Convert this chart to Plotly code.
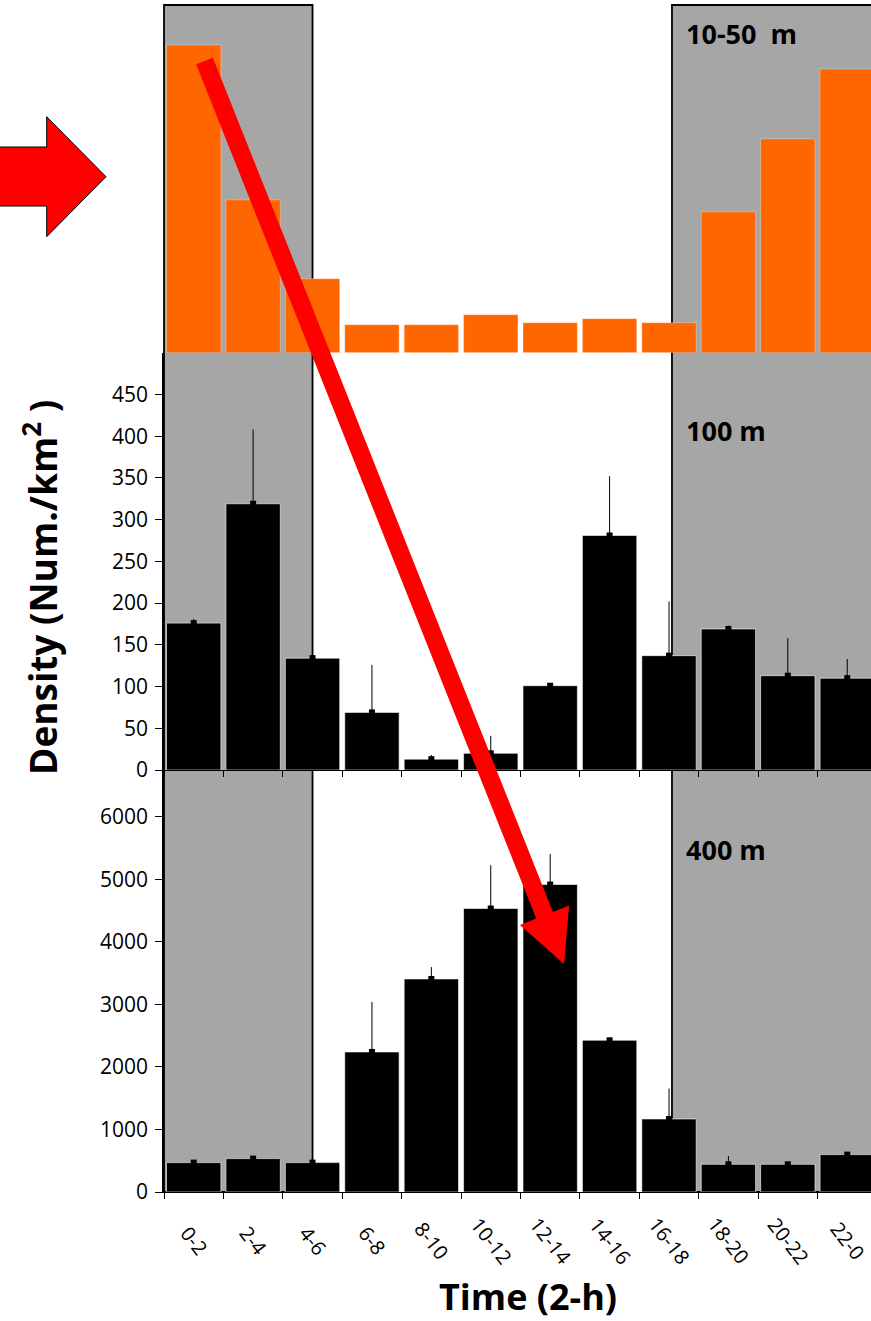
import math
import plotly.graph_objects as go

# ---------------- data ----------------
periods = ["0-2", "2-4", "4-6", "6-8", "8-10", "10-12",
           "12-14", "14-16", "16-18", "18-20", "20-22", "22-0"]
# 10-50 m layer (no axis shown, relative density)
density_10_50 = [308, 153, 74, 28, 28, 38, 30, 34, 30, 141, 214, 284]
# 100 m layer
density_100 = [176, 319, 134, 69, 13, 20, 101, 281, 137, 169, 113, 110]
err_100 = [5, 89, 111, 57, 5, 21, 3, 71, 65, 4, 45, 23]
# 400 m layer
density_400 = [470, 534, 470, 2240, 3408, 4534, 4918, 2427, 1168, 443, 443, 598]
err_400 = [30, 30, 30, 800, 190, 693, 490, 30, 486, 133, 30, 30]

ticks_100 = [0, 50, 100, 150, 200, 250, 300, 350, 400, 450]
ticks_400 = [0, 1000, 2000, 3000, 4000, 5000, 6000]
night_spans = [(-0.5, 2.0), (8.05, 13.0)]   # in category units

# ---------------- geometry ----------------
W, H = 871, 1321
ML, MR, MT, MB = 164, 0, 5, 129
PW, PH = W - ML - MR, H - MT - MB
XR = [-0.5, 11.4]
ORANGE = "#FF6600"
GRAY = "#A6A6A6"
FONT = "Open Sans"


def px(x):
    return (x - ML) / PW


def py(y):
    return (H - MB - y) / PH


def cat_paper(c):
    return (c - XR[0]) / (XR[1] - XR[0])


d_bot = [0, py(770)]
d_mid = [py(770), py(352.7)]
d_top = [py(352.7), 1]

fig = go.Figure()

bar_line = dict(color="white", width=0.6)
fig.add_trace(go.Bar(x=periods, y=density_400, marker=dict(color="black", line=bar_line),
                     error_y=dict(type="data", array=err_400, arrayminus=[0] * 12,
                                  color="black", thickness=1, width=0),
                     xaxis="x", yaxis="y"))
fig.add_trace(go.Scatter(x=periods, y=density_400, mode="markers",
                         marker=dict(symbol="square", size=6, color="black"),
                         xaxis="x", yaxis="y", hoverinfo="skip"))
fig.add_trace(go.Bar(x=periods, y=density_100, marker=dict(color="black", line=bar_line),
                     error_y=dict(type="data", array=err_100, arrayminus=[0] * 12,
                                  color="black", thickness=1, width=0),
                     xaxis="x2", yaxis="y2"))
fig.add_trace(go.Scatter(x=periods, y=density_100, mode="markers",
                         marker=dict(symbol="square", size=6, color="black"),
                         xaxis="x2", yaxis="y2", hoverinfo="skip"))
fig.add_trace(go.Bar(x=periods, y=density_10_50,
                     marker=dict(color=ORANGE, line=dict(color="rgba(255,255,255,0.5)", width=0.6)),
                     xaxis="x3", yaxis="y3"))

xcommon = dict(range=XR, showgrid=False, zeroline=False, type="category",
               tickson="boundaries", showticklabels=False, fixedrange=True)
ycommon = dict(showgrid=False, zeroline=False, tickfont=dict(family=FONT, size=21, color="black"),
               ticks="outside", ticklen=7, tickcolor="black", ticklabelstandoff=3)

shapes = []
for a, b in night_spans:
    shapes.append(dict(type="rect", xref="paper", yref="paper",
                       x0=cat_paper(a), x1=cat_paper(b), y0=0, y1=1,
                       fillcolor=GRAY, line=dict(color="black", width=1.8), layer="below"))


def poly(points):
    return "M " + " L ".join(f"{px(x):.5f},{py(y):.5f}" for x, y in points) + " Z"


# block arrow at left
block = [(-5, 147), (46.7, 147), (46.7, 116.7), (106, 176.7),
         (46.7, 236.7), (46.7, 206), (-5, 206)]
shapes.append(dict(type="path", xref="paper", yref="paper", path=poly(block),
                   fillcolor="#FF0000", line=dict(color="black", width=1), layer="above"))

# diagonal arrow
sx, sy = 204.5, 61.0
tx, ty = 564.0, 964.0
L = math.hypot(tx - sx, ty - sy)
ux, uy = (tx - sx) / L, (ty - sy) / L
vx, vy = uy, -ux
hl, hw, sw = 52.5, 26.5, 9.0
bx, by = tx - ux * hl, ty - uy * hl
diag = [(sx + vx * sw, sy + vy * sw), (bx + vx * sw, by + vy * sw),
        (bx + vx * hw, by + vy * hw), (tx, ty),
        (bx - vx * hw, by - vy * hw), (bx - vx * sw, by - vy * sw),
        (sx - vx * sw, sy - vy * sw)]
shapes.append(dict(type="path", xref="paper", yref="paper", path=poly(diag),
                   fillcolor="#FF0000", line=dict(width=0), layer="above"))

annotations = []
for txt, yy in [("10-50&nbsp;&nbsp;m", 33), ("100 m", 430), ("400 m", 849)]:
    annotations.append(dict(text=f"<b>{txt}</b>", xref="paper", yref="paper",
                            x=px(684), y=py(yy), xanchor="left", yanchor="middle",
                            showarrow=False, font=dict(family=FONT, size=27, color="black")))
for i, p in enumerate(periods):
    annotations.append(dict(text=p, xref="paper", yref="paper",
                            x=cat_paper(i), y=py(1241), xanchor="center", yanchor="middle",
                            textangle=52, showarrow=False,
                            font=dict(family=FONT, size=20, color="black")))
annotations.append(dict(text="<b>Time (2-h)</b>", xref="paper", yref="paper",
                        x=px(528), y=py(1296), xanchor="center", yanchor="middle",
                        showarrow=False, borderpad=0,
                        font=dict(family=FONT, size=36, color="black")))
annotations.append(dict(text="<b>Density (Num./km<sup>2</sup> )</b>", xref="paper", yref="paper",
                        x=px(40), y=py(588), xanchor="center", yanchor="middle",
                        textangle=-90, showarrow=False,
                        font=dict(family=FONT, size=37, color="black")))

fig.update_layout(
    width=W, height=H, margin=dict(l=ML, r=MR, t=MT, b=MB),
    paper_bgcolor="white", plot_bgcolor="rgba(0,0,0,0)",
    showlegend=False, bargap=0.085,
    font=dict(family=FONT, color="black"),
    xaxis=dict(**xcommon, domain=[0, 1], anchor="y", showline=True, linecolor="black",
               linewidth=1, ticks="outside", ticklen=6, tickcolor="black"),
    yaxis=dict(**ycommon, domain=d_bot, range=[0, 6750], tickvals=ticks_400,
               showline=True, linecolor="black", linewidth=1.5, anchor="x"),
    xaxis2=dict(**xcommon, domain=[0, 1], anchor="y2", matches="x", showline=True,
                linecolor="black", linewidth=1, ticks="outside", ticklen=6, tickcolor="black"),
    yaxis2=dict(**ycommon, domain=d_mid, range=[0, 500], tickvals=ticks_100,
                showline=True, linecolor="black", linewidth=1.5, anchor="x2"),
    xaxis3=dict(**xcommon, domain=[0, 1], anchor="y3", matches="x", showline=False, ticks=""),
    yaxis3=dict(domain=d_top, range=[0, 348], visible=False, anchor="x3", fixedrange=True),
    shapes=shapes, annotations=annotations,
)

fig.write_html("out.html", config={"displayModeBar": False},
               post_script="document.body.style.margin='0';document.body.style.overflow='hidden';")
